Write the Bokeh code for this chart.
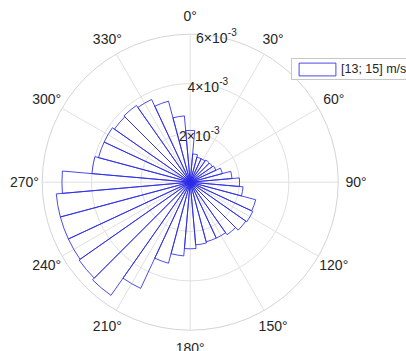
import numpy as np
from bokeh.plotting import figure
from bokeh.models import Range1d, Legend, LegendItem, ColumnDataSource
from bokeh.core.properties import value
from bokeh.embed import file_html
from bokeh.resources import INLINE

# ---- data (probability per 10-degree direction bin, in units of 1e-3) ----
bin_centers = list(range(0, 360, 10))          # compass degrees, clockwise from north
bin_width = 10
probability_e3 = [2.10, 1.15, 1.05, 1.05, 1.10, 1.10, 1.15, 1.35, 1.70, 2.00,
                  2.15, 2.75, 2.80, 2.75, 2.60, 2.50, 2.50, 2.55, 2.70, 3.00,
                  3.40, 4.75, 5.60, 5.50, 5.45, 5.45, 5.45, 5.20, 4.00, 3.85,
                  3.85, 3.75, 3.80, 3.70, 3.40, 2.70]
r_ticks = [2, 4, 6]
r_tick_mantissa = ["2", "4", "6"]
r_tick_exponent = "-3"
theta_ticks = list(range(0, 360, 30))
theta_labels = [f"{t}\u00b0" for t in theta_ticks]
series_label = "[13; 15] m/s"

# ---- layout ----
W, H = 406, 351
CX, CY = 189.7, 181.7          # polar centre in figure pixels (from top-left)
PX = 24.667                    # pixels per 1e-3
RMAX = max(r_ticks)
FONT_NAME = "Liberation Sans"
FONT = value(FONT_NAME)
TXT = "#262626"
BAR = "#2a2ae8"

p = figure(width=W, height=H, output_backend="svg", toolbar_location=None,
           x_range=Range1d(-CX / PX, (W - CX) / PX),
           y_range=Range1d(-(H - CY) / PX, CY / PX),
           x_axis_location=None, y_axis_location=None, min_border=0)
p.grid.visible = False
p.outline_line_color = None
p.background_fill_color = "white"
p.border_fill_color = "white"

# grid circles and spokes
p.circle(x=0, y=0, radius=r_ticks[:-1], fill_color=None, line_color="#e0e0e0", line_width=1)
p.circle(x=0, y=0, radius=[RMAX], fill_color=None, line_color="#d4d4d4", line_width=1)
th = np.radians(theta_ticks)
p.segment(x0=0, y0=0, x1=RMAX * np.sin(th), y1=RMAX * np.cos(th),
          line_color="#e0e0e0", line_width=1)

# bars
centers = np.array(bin_centers, dtype=float)
src = ColumnDataSource(dict(
    r=probability_e3,
    start=90 - centers - bin_width / 2,
    end=90 - centers + bin_width / 2,
))
bars = p.wedge(x=0, y=0, radius="r", start_angle="start", end_angle="end",
               start_angle_units="deg", end_angle_units="deg", source=src,
               fill_color=None, line_color=BAR, line_alpha=0.85, line_width=1)

# theta labels
RL = 6.72
p.text(x=RL * np.sin(th), y=RL * np.cos(th), text=theta_labels,
       text_align="center", text_baseline="middle", text_font=FONT,
       text_font_size="14px", text_color=TXT)

# r tick labels (along 10 degrees)
ra = np.radians(10)
rt = np.array(r_ticks, dtype=float)
p.text(x=rt * np.sin(ra), y=rt * np.cos(ra), text=[m + "\u00d710" for m in r_tick_mantissa],
       x_offset=11.7, y_offset=2, text_align="right", text_baseline="middle",
       text_font=FONT, text_font_size="14px", text_color=TXT)
p.text(x=rt * np.sin(ra), y=rt * np.cos(ra), text=[r_tick_exponent] * len(r_ticks),
       x_offset=11.9, y_offset=-4, text_align="left", text_baseline="middle",
       text_font=FONT, text_font_size="10px", text_color=TXT)

# legend
legend = Legend(items=[LegendItem(label=series_label, renderers=[bars], index=0)],
                location=(291, 271), padding=2, spacing=0, margin=0,
                glyph_width=46, glyph_height=16, label_height=16, label_standoff=1,
                label_text_font=FONT_NAME, label_text_font_size="12.5px", label_text_color=TXT,
                border_line_color="#909090", border_line_width=1,
                background_fill_color="white", background_fill_alpha=1.0)
p.add_layout(legend)

open("out.html", "w").write(file_html(p, INLINE))
